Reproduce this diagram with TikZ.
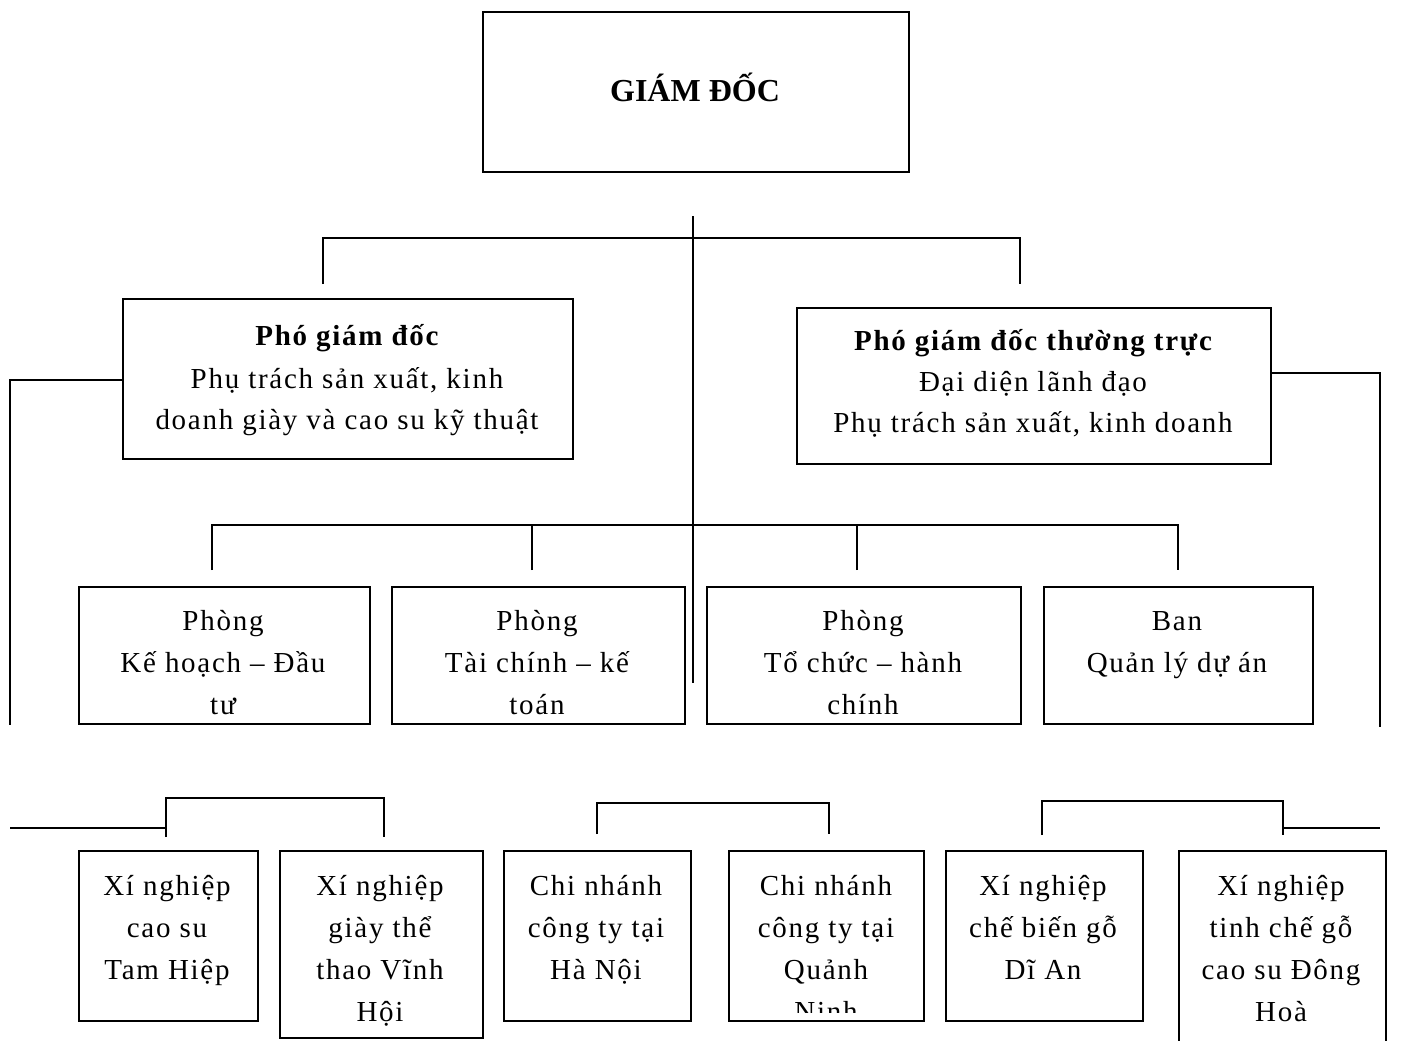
\documentclass[tikz,border=0pt]{standalone}
\usepackage{fontspec}
\setmainfont{Liberation Serif}
\newfontfamily\lsfont[LetterSpace=6]{Liberation Serif}
\begin{document}
\begin{tikzpicture}[x=1pt,y=-1pt,line width=1.6pt,
  box/.style={draw,line width=1.8pt,inner sep=0pt,anchor=north west},
  ln/.style={anchor=base,inner sep=0pt,font=\lsfont\fontsize{29}{42}\selectfont},
  bl/.style={anchor=base,inner sep=0pt,font=\lsfont\fontsize{29}{42}\selectfont\bfseries}]
\useasboundingbox (0,0) rectangle (1411,1041);
\clip (0,0) rectangle (1411,1041);
% boxes
\node[box,minimum width=426pt,minimum height=160pt] (gd) at (482,11) {};
\node[box,minimum width=450pt,minimum height=160pt] (p1) at (122,298) {};
\node[box,minimum width=474pt,minimum height=156pt] (p2) at (796,307) {};
\node[box,minimum width=291pt,minimum height=137pt] (r1) at (78,586) {};
\node[box,minimum width=293pt,minimum height=137pt] (r2) at (391,586) {};
\node[box,minimum width=314pt,minimum height=137pt] (r3) at (706,586) {};
\node[box,minimum width=269pt,minimum height=137pt] (r4) at (1043,586) {};
\node[box,minimum width=179pt,minimum height=170pt] (b1) at (78,850) {};
\node[box,minimum width=203pt,minimum height=187pt] (b2) at (279,850) {};
\node[box,minimum width=187pt,minimum height=170pt] (b3) at (503,850) {};
\node[box,minimum width=195pt,minimum height=170pt] (b4) at (728,850) {};
\node[box,minimum width=197pt,minimum height=170pt] (b5) at (945,850) {};
\node[box,minimum width=207pt,minimum height=230pt] (b6) at (1178,850) {};
% texts
\node[anchor=base,inner sep=0pt,font=\fontsize{32}{42}\selectfont\bfseries] (gdt) at (695,101) {GIÁM ĐỐC};
\node[bl] (p1a) at (347,345) {Phó giám đốc};
\node[ln] (p1b) at (347,388) {Phụ trách sản xuất, kinh};
\node[ln] (p1c) at (347,429) {doanh giày và cao su kỹ thuật};
\node[bl] (p2a) at (1033,350) {Phó giám đốc thường trực};
\node[ln] (p2b) at (1033,391) {Đại diện lãnh đạo};
\node[ln] (p2c) at (1033,432) {Phụ trách sản xuất, kinh doanh};
\begin{scope}
\clip (0,586) rectangle (1411,717);
\node[ln] (r1a) at (223,630) {Phòng};
\node[ln] (r1b) at (223,672) {Kế hoạch – Đầu};
\node[ln] (r1c) at (223,714) {tư};
\node[ln] (r2a) at (537,630) {Phòng};
\node[ln] (r2b) at (537,672) {Tài chính – kế};
\node[ln] (r2c) at (537,714) {toán};
\node[ln] (r3a) at (863,630) {Phòng};
\node[ln] (r3b) at (863,672) {Tổ chức – hành};
\node[ln] (r3c) at (863,714) {chính};
\node[ln] (r4a) at (1177,630) {Ban};
\node[ln] (r4b) at (1177,672) {Quản lý dự án};
\end{scope}
\node[ln] (b1a) at (167,895) {Xí nghiệp};
\node[ln] (b1b) at (167,937) {cao su};
\node[ln] (b1c) at (167,979) {Tam Hiệp};
\node[ln] (b2a) at (380,895) {Xí nghiệp};
\node[ln] (b2b) at (380,937) {giày thể};
\node[ln] (b2c) at (380,979) {thao Vĩnh};
\node[ln] (b2d) at (380,1021) {Hội};
\node[ln] (b3a) at (596,895) {Chi nhánh};
\node[ln] (b3b) at (596,937) {công ty tại};
\node[ln] (b3c) at (596,979) {Hà Nội};
\begin{scope}
\clip (728,850) rectangle (923,1012);
\node[ln] (b4a) at (826,895) {Chi nhánh};
\node[ln] (b4b) at (826,937) {công ty tại};
\node[ln] (b4c) at (826,979) {Quảnh};
\node[ln] (b4d) at (826,1021) {Ninh};
\end{scope}
\node[ln] (b5a) at (1043,895) {Xí nghiệp};
\node[ln] (b5b) at (1043,937) {chế biến gỗ};
\node[ln] (b5c) at (1043,979) {Dĩ An};
\node[ln] (b6a) at (1281,895) {Xí nghiệp};
\node[ln] (b6b) at (1281,937) {tinh chế gỗ};
\node[ln] (b6c) at (1281,979) {cao su Đông};
\node[ln] (b6d) at (1281,1021) {Hoà};
% connector coordinates
\coordinate (t0) at (693,216);
\coordinate (t1) at (693,683);
\coordinate (ka) at (323,284);
\coordinate (kb) at (1020,284);
\coordinate (lw) at (10,725);
\coordinate (rw) at (1380,727);
\coordinate (p1w) at (122,380);
\coordinate (p2e) at (1270,373);
\coordinate (ra) at (212,570);
\coordinate (rb) at (532,570);
\coordinate (rc) at (857,570);
\coordinate (rd) at (1178,570);
\coordinate (la) at (10,828);
\coordinate (ba) at (166,837);
\coordinate (bb) at (384,837);
\coordinate (bc) at (597,834);
\coordinate (bd) at (829,834);
\coordinate (be) at (1042,835);
\coordinate (bf) at (1283,835);
\coordinate (lb) at (1380,828);
% connectors
\draw (t0) -- (t1);
\draw (ka) -- ++(0,-46) -| (kb);
\draw (p1w) -| (lw);
\draw (p2e) -| (rw);
\draw (ra) -- ++(0,-45) -| (rd);
\draw (rb) -- ++(0,-45);
\draw (rc) -- ++(0,-45);
\draw (la) -- (la -| ba);
\draw (ba) -- ++(0,-39) -| (bb);
\draw (bc) -- ++(0,-31) -| (bd);
\draw (be) -- ++(0,-34) -| (bf);
\draw (bf |- lb) -- (lb);
\end{tikzpicture}
\end{document}
